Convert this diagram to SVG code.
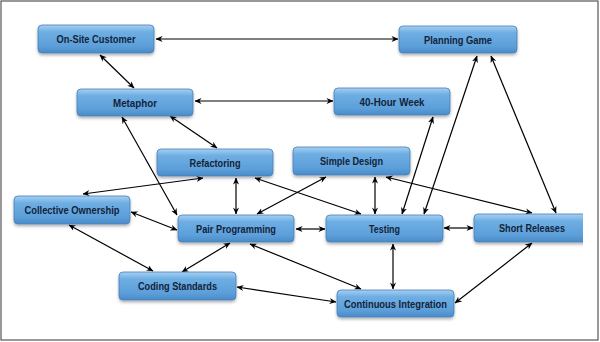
<svg xmlns="http://www.w3.org/2000/svg" width="600" height="342" viewBox="0 0 600 342">
<style>
.box{fill:url(#g);stroke:#4a7fb8;stroke-width:0.8;filter:url(#sh)}
.lbl{font-family:"Liberation Sans",Arial,sans-serif;font-weight:bold;font-size:11px;fill:#13233a;text-anchor:middle}
.c{fill:none;stroke:#000;stroke-width:1.2;marker-start:url(#a);marker-end:url(#a)}
</style>
<defs>
<linearGradient id="g" x1="0" y1="0" x2="0" y2="1">
<stop offset="0" stop-color="#a6d0f2"/>
<stop offset="0.25" stop-color="#6eaee3"/>
<stop offset="0.75" stop-color="#5c9fd9"/>
<stop offset="1" stop-color="#4a8bc9"/>
</linearGradient>
<filter id="sh" x="-10%" y="-20%" width="120%" height="160%">
<feDropShadow dx="0" dy="2" stdDeviation="1.5" flood-color="#000" flood-opacity="0.3"/>
</filter>
<marker id="a" viewBox="0 0 8 8" refX="7.5" refY="4" markerWidth="7" markerHeight="7" markerUnits="userSpaceOnUse" orient="auto-start-reverse">
<path d="M0,0.5 L8,4 L0,7.5 L2.5,4 z" fill="#000"/>
</marker>
<clipPath id="clipR"><rect x="0" y="0" width="583" height="342"/></clipPath>
</defs>
<rect x="1" y="1" width="597" height="339" fill="#fff" stroke="#555" stroke-width="1.2"/>
<g id="connectors">
<line class="c" x1="156" y1="39" x2="398" y2="39"/>
<line class="c" x1="100" y1="55" x2="134" y2="88"/>
<line class="c" x1="195" y1="101" x2="333" y2="101"/>
<line class="c" x1="170" y1="116" x2="217" y2="148"/>
<line class="c" x1="122" y1="117" x2="177" y2="215"/>
<line class="c" x1="203" y1="178" x2="83" y2="194"/>
<line class="c" x1="236" y1="178" x2="236" y2="214"/>
<line class="c" x1="255" y1="178" x2="361" y2="214"/>
<line class="c" x1="326" y1="177" x2="257" y2="214"/>
<line class="c" x1="375" y1="177" x2="375" y2="214"/>
<line class="c" x1="386" y1="177" x2="532" y2="213"/>
<line class="c" x1="402" y1="214" x2="433" y2="117"/>
<line class="c" x1="424" y1="214" x2="477" y2="56"/>
<line class="c" x1="491" y1="56" x2="556" y2="213"/>
<line class="c" x1="444" y1="228" x2="473" y2="228"/>
<line class="c" x1="296" y1="229" x2="325" y2="229"/>
<line class="c" x1="131" y1="212" x2="177" y2="230"/>
<line class="c" x1="69" y1="225" x2="153" y2="271"/>
<line class="c" x1="230" y1="243" x2="182" y2="272"/>
<line class="c" x1="250" y1="244" x2="361" y2="289"/>
<line class="c" x1="237" y1="287" x2="336" y2="302"/>
<line class="c" x1="393" y1="244" x2="393" y2="289"/>
<line class="c" x1="532" y1="243" x2="455" y2="303"/>
</g>
<g id="on-site-customer"><rect class="box" x="38" y="25" width="116" height="28" rx="4"/><text class="lbl" x="96" y="43" textLength="79" lengthAdjust="spacingAndGlyphs">On-Site Customer</text></g>
<g id="planning-game"><rect class="box" x="399" y="26" width="118" height="27" rx="4"/><text class="lbl" x="458" y="43.5" textLength="68" lengthAdjust="spacingAndGlyphs">Planning Game</text></g>
<g id="metaphor"><rect class="box" x="77" y="89" width="116" height="27" rx="4"/><text class="lbl" x="135" y="106.5" textLength="44" lengthAdjust="spacingAndGlyphs">Metaphor</text></g>
<g id="forty-hour-week"><rect class="box" x="334" y="88" width="116" height="27" rx="4"/><text class="lbl" x="392" y="105.5" textLength="65" lengthAdjust="spacingAndGlyphs">40-Hour Week</text></g>
<g id="refactoring"><rect class="box" x="157" y="149" width="116" height="27" rx="4"/><text class="lbl" x="215" y="166.5" textLength="51" lengthAdjust="spacingAndGlyphs">Refactoring</text></g>
<g id="simple-design"><rect class="box" x="293" y="147" width="117" height="28" rx="4"/><text class="lbl" x="351.5" y="165" textLength="63" lengthAdjust="spacingAndGlyphs">Simple Design</text></g>
<g id="collective-ownership"><rect class="box" x="14" y="196" width="116" height="28" rx="4"/><text class="lbl" x="72" y="214" textLength="95" lengthAdjust="spacingAndGlyphs">Collective Ownership</text></g>
<g id="pair-programming"><rect class="box" x="178" y="215" width="116" height="27" rx="4"/><text class="lbl" x="236" y="232.5" textLength="80" lengthAdjust="spacingAndGlyphs">Pair Programming</text></g>
<g id="testing"><rect class="box" x="326" y="215" width="117" height="27" rx="4"/><text class="lbl" x="384.5" y="232.5" textLength="31" lengthAdjust="spacingAndGlyphs">Testing</text></g>
<g id="short-releases" clip-path="url(#clipR)"><rect class="box" x="474" y="214" width="118" height="28" rx="4"/><text class="lbl" x="532" y="231.5" textLength="66" lengthAdjust="spacingAndGlyphs">Short Releases</text></g>
<g id="coding-standards"><rect class="box" x="119" y="272" width="117" height="28" rx="4"/><text class="lbl" x="177.5" y="290" textLength="79" lengthAdjust="spacingAndGlyphs">Coding Standards</text></g>
<g id="continuous-integration"><rect class="box" x="337" y="290" width="117" height="27" rx="4"/><text class="lbl" x="395.5" y="307.5" textLength="103" lengthAdjust="spacingAndGlyphs">Continuous Integration</text></g>
</svg>
